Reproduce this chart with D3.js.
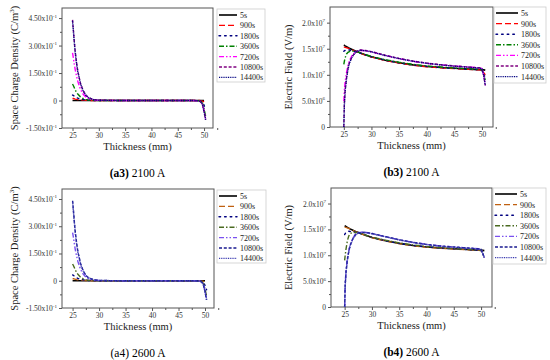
<!DOCTYPE html>
<html><head><meta charset="utf-8">
<script src="https://cdn.jsdelivr.net/npm/d3@7"></script>
<style>body{margin:0;background:#fff}svg{display:block}svg text{font-family:"Liberation Serif","Times New Roman",Times,serif}</style>
</head><body><svg id="c" width="550" height="360"></svg>
<script>
// ---- data ----
const seriesNames = ["5s","900s","1800s","3600s","7200s","10800s","14400s"];
const xTicks = [25,30,35,40,45,50];
const qTickValues = [-1.5,0,1.5,3.0,4.5];
const qTickLabels = [["-1.50x10","-1"],["0",""],["1.50x10","-1"],["3.00x10","-1"],["4.50x10","-1"]];
const eTickValues = [0,0.5,1.0,1.5,2.0];
const eTickLabels = [["0",""],["5.0x10","6"],["1.0x10","7"],["1.5x10","7"],["2.0x10","7"]];

const thicknessQ = [25,25.15,25.3,25.5,25.75,26,26.5,27,27.5,28,29,30,35,40,45,48,49,49.4,49.7,50,50.3];
const qA3_5s    = [0,0,0,0,0,0,0,0,0,0,0,0,0,0,0,0,0,0,0,0,null];
const qA3_900s  = [0.12,0.11,0.1,0.08,0.06,0.05,0.03,0.02,0.01,0.005,0,0,0,0,0,0,0,-0.01,-0.03,-0.08,-0.15];
const qA3_1800s = [0.3,0.28,0.25,0.2,0.16,0.13,0.08,0.05,0.03,0.015,0.005,0,0,0,0,0,-0.01,-0.03,-0.08,-0.25,-0.5];
const qA3_3600s = [0.9,0.82,0.72,0.58,0.45,0.35,0.2,0.11,0.06,0.03,0.01,0,0,0,0,0,-0.01,-0.05,-0.15,-0.45,-0.85];
const qA3_7200s = [2.6,2.35,2.05,1.7,1.35,1.05,0.62,0.35,0.2,0.11,0.03,0.01,0,0,0,0,-0.02,-0.08,-0.2,-0.55,-1.0];
const qA3_10800s= [4.4,3.9,3.35,2.7,2.1,1.6,0.95,0.55,0.3,0.17,0.05,0.015,0,0,0,0,-0.02,-0.08,-0.22,-0.6,-1.05];
const qA3_14400s= [4.35,3.85,3.3,2.65,2.05,1.58,0.93,0.54,0.3,0.16,0.05,0.015,0,0,0,0,-0.02,-0.08,-0.22,-0.6,-1.05];

const qA4_5s    = [0,0,0,0,0,0,0,0,0,0,0,0,0,0,0,0,0,0,0,0,null];
const qA4_900s  = [0.12,0.11,0.1,0.08,0.06,0.05,0.03,0.02,0.01,0.005,0,0,0,0,0,0,0,-0.01,-0.03,-0.08,-0.15];
const qA4_1800s = [0.32,0.3,0.26,0.21,0.17,0.13,0.08,0.05,0.03,0.015,0.005,0,0,0,0,0,-0.01,-0.03,-0.08,-0.25,-0.5];
const qA4_3600s = [0.92,0.84,0.74,0.6,0.46,0.36,0.2,0.11,0.06,0.03,0.01,0,0,0,0,0,-0.01,-0.05,-0.15,-0.45,-0.85];
const qA4_7200s = [2.65,2.4,2.1,1.72,1.37,1.06,0.63,0.36,0.2,0.11,0.03,0.01,0,0,0,0,-0.02,-0.08,-0.2,-0.55,-1.0];
const qA4_10800s= [4.4,3.9,3.35,2.7,2.1,1.6,0.95,0.55,0.3,0.17,0.05,0.015,0,0,0,0,-0.02,-0.08,-0.22,-0.6,-1.05];
const qA4_14400s= [4.35,3.85,3.3,2.65,2.05,1.58,0.93,0.54,0.3,0.16,0.05,0.015,0,0,0,0,-0.02,-0.08,-0.22,-0.6,-1.05];

const thicknessE = [25,25.1,25.25,25.5,25.75,26,26.5,27,27.5,28,29,30,32.5,35,37.5,40,42.5,45,47.5,49.5,50,50.3,50.6];
const eB3_5s    = [1.57,1.565,1.555,1.54,1.525,1.51,1.485,1.46,1.44,1.42,1.38,1.345,1.28,1.23,1.19,1.16,1.14,1.125,1.11,1.1,1.1,1.095,1.09];
const eB3_900s  = [1.53,1.53,1.525,1.52,1.51,1.5,1.48,1.455,1.435,1.415,1.375,1.34,1.275,1.225,1.185,1.155,1.135,1.12,1.105,1.095,1.09,1.05,1.0];
const eB3_1800s = [1.45,1.46,1.47,1.48,1.48,1.475,1.465,1.45,1.435,1.415,1.38,1.345,1.28,1.23,1.19,1.165,1.14,1.125,1.11,1.1,1.09,1.02,0.95];
const eB3_3600s = [1.2,1.26,1.33,1.4,1.43,1.445,1.455,1.45,1.44,1.42,1.385,1.35,1.29,1.24,1.2,1.17,1.15,1.13,1.115,1.105,1.1,1.0,0.9];
const eB3_7200s = [0.5,0.7,0.88,1.05,1.18,1.27,1.37,1.43,1.46,1.47,1.46,1.44,1.37,1.31,1.26,1.22,1.19,1.17,1.15,1.135,1.12,1.0,0.8];
const eB3_10800s= [0,0.45,0.72,0.95,1.12,1.23,1.35,1.42,1.46,1.475,1.465,1.445,1.375,1.315,1.265,1.225,1.195,1.17,1.15,1.135,1.12,1.0,0.8];
const eB3_14400s= [0,0.42,0.7,0.93,1.1,1.22,1.34,1.415,1.455,1.47,1.46,1.44,1.37,1.31,1.26,1.22,1.19,1.165,1.145,1.13,1.115,1.0,0.8];

const eB4_5s    = [1.57,1.565,1.555,1.54,1.525,1.51,1.485,1.46,1.44,1.42,1.38,1.345,1.28,1.23,1.19,1.16,1.14,1.125,1.11,1.1,1.1,1.095,1.09];
const eB4_900s  = [1.55,1.545,1.54,1.53,1.52,1.505,1.48,1.455,1.435,1.415,1.375,1.34,1.275,1.225,1.185,1.155,1.135,1.12,1.105,1.095,1.09,1.08,1.06];
const eB4_1800s = [1.4,1.42,1.44,1.46,1.465,1.46,1.455,1.445,1.43,1.415,1.38,1.345,1.28,1.23,1.19,1.165,1.14,1.125,1.11,1.1,1.09,1.05,1.0];
const eB4_3600s = [0.9,1.0,1.12,1.28,1.37,1.42,1.44,1.44,1.435,1.42,1.385,1.35,1.29,1.24,1.2,1.17,1.15,1.13,1.115,1.105,1.1,1.03,0.95];
const eB4_7200s = [0,0.45,0.7,0.93,1.08,1.2,1.33,1.41,1.44,1.445,1.44,1.42,1.36,1.3,1.25,1.21,1.18,1.16,1.14,1.125,1.115,1.04,0.95];
const eB4_10800s= [0,0.42,0.68,0.92,1.07,1.19,1.32,1.4,1.435,1.445,1.44,1.42,1.36,1.3,1.25,1.21,1.18,1.16,1.14,1.125,1.115,1.04,0.95];
const eB4_14400s= [0,0.4,0.66,0.9,1.06,1.18,1.31,1.395,1.43,1.44,1.435,1.415,1.355,1.295,1.245,1.205,1.175,1.155,1.135,1.12,1.11,1.04,0.95];

// ---- styles ----
const dashes = [null,"6,3","1.6,4","5,2,1.5,2","5,2,1.5,2,1.5,2","3,1.8","1,0.8"];
const colorsTop = ["#000000","#ff0000","#000080","#008000","#ff00ff","#800080","#000080"];
const colorsBot = ["#000000","#c06010","#000080","#4a6a20","#7a50f0","#1a1a90","#3a3ab0"];

const svg = d3.select("#c");
svg.append("rect").attr("width",550).attr("height",360).attr("fill","#fff");

function panel(cfg){
  const g = svg.append("g");
  const x = d3.scaleLinear().domain(cfg.xDomain).range([cfg.left,cfg.right]);
  const y = d3.scaleLinear().domain(cfg.yDomain).range([cfg.bottom,cfg.top]);
  const axisColor = "#555";
  g.append("rect").attr("x",cfg.left).attr("y",cfg.top).attr("width",cfg.right-cfg.left).attr("height",cfg.bottom-cfg.top)
    .attr("fill","none").attr("stroke",axisColor).attr("stroke-width",1);
  const xa = g.append("g").attr("transform",`translate(0,${cfg.bottom})`)
    .call(d3.axisBottom(x).tickValues(xTicks).tickSize(3).tickPadding(2).tickFormat(d3.format("d")));
  xa.select(".domain").remove();
  xa.selectAll("line").attr("stroke",axisColor);
  xa.selectAll("text").attr("font-size",7.5).attr("fill","#333");
  const xm = g.append("g").attr("transform",`translate(0,${cfg.bottom})`)
    .call(d3.axisBottom(x).tickValues(xTicks.map(v=>v+2.5)).tickSize(2).tickFormat(""));
  xm.select(".domain").remove(); xm.selectAll("line").attr("stroke",axisColor);
  const ya = g.append("g").attr("transform",`translate(${cfg.left},0)`)
    .call(d3.axisLeft(y).tickValues(cfg.yTicks).tickSize(3).tickFormat(""));
  ya.select(".domain").remove(); ya.selectAll("line").attr("stroke",axisColor);
  const minor = cfg.yTicks.slice(0,-1).map((v,i)=>(v+cfg.yTicks[i+1])/2);
  const ym = g.append("g").attr("transform",`translate(${cfg.left},0)`)
    .call(d3.axisLeft(y).tickValues(minor).tickSize(2).tickFormat(""));
  ym.select(".domain").remove(); ym.selectAll("line").attr("stroke",axisColor);
  cfg.yTicks.forEach((v,i)=>{
    const t = g.append("text").attr("x",cfg.left-5).attr("y",y(v)+3).attr("text-anchor","end")
      .attr("font-size",7.5).attr("fill","#333");
    t.append("tspan").text(cfg.yLabels[i][0]);
    if(cfg.yLabels[i][1]) t.append("tspan").attr("font-size",5).attr("dy",-3.5).text(cfg.yLabels[i][1]);
  });
  const yl = g.append("text").attr("transform",`translate(${cfg.yLabelX},${(cfg.top+cfg.bottom)/2}) rotate(-90)`)
    .attr("text-anchor","middle").attr("font-size",10.5).attr("fill","#222");
  yl.append("tspan").text(cfg.yTitle[0]);
  if(cfg.yTitle[1]){ yl.append("tspan").attr("font-size",7).attr("dy",-4).text(cfg.yTitle[1]); yl.append("tspan").attr("dy",4).text(cfg.yTitle[2]); }
  g.append("text").attr("x",(cfg.left+cfg.right)/2).attr("y",cfg.bottom+22).attr("text-anchor","middle")
    .attr("font-size",10.5).attr("fill","#222").text("Thickness (mm)");
  const cap = g.append("text").attr("x",(cfg.left+cfg.right)/2).attr("y",cfg.bottom+49).attr("text-anchor","middle")
    .attr("font-size",11.5).attr("fill","#000");
  cap.append("tspan").attr("font-weight","bold").text(cfg.capBold);
  cap.append("tspan").text(cfg.capRest);
  const clipId = "clip"+cfg.id;
  g.append("clipPath").attr("id",clipId).append("rect").attr("x",cfg.left).attr("y",cfg.top)
    .attr("width",cfg.right-cfg.left).attr("height",cfg.bottom-cfg.top);
  const line = d3.line().defined(d=>d[1]!=null).x(d=>x(d[0])).y(d=>y(d[1]));
  const lg = g.append("g").attr("clip-path",`url(#${clipId})`);
  cfg.series.forEach((vals,i)=>{
    const pts = cfg.xs.map((xv,j)=>[xv,vals[j]]);
    lg.append("path").attr("d",line(pts)).attr("fill","none").attr("stroke",cfg.colors[i])
      .attr("stroke-width",i===0?1.6:1.4).attr("stroke-dasharray",dashes[i]).attr("stroke-linecap",i===2?"round":"butt");
  });
  const L = cfg.legend;
  g.append("rect").attr("x",L.x).attr("y",L.y).attr("width",L.w).attr("height",L.h)
    .attr("fill","#fff").attr("stroke","#ccc").attr("stroke-width",0.8);
  seriesNames.forEach((n,i)=>{
    const yy = L.y+6+i*L.step;
    g.append("line").attr("x1",L.x+2).attr("x2",L.x+L.lineW).attr("y1",yy).attr("y2",yy)
      .attr("stroke",cfg.colors[i]).attr("stroke-width",i===0?1.6:1.4).attr("stroke-dasharray",dashes[i])
      .attr("stroke-linecap",i===2?"round":"butt");
    g.append("text").attr("x",L.x+L.lineW+3).attr("y",yy+3).attr("font-size",8).attr("fill","#222").text(n);
  });
}

panel({id:"a3",left:62,right:213,top:8,bottom:128,xDomain:[23,51.7],yDomain:[-1.5,5.05],
  yTicks:qTickValues,yLabels:qTickLabels,yLabelX:18,yTitle:["Space Charge Density (C/m","3",")"],
  capBold:"(a3)",capRest:" 2100 A",xs:thicknessQ,colors:colorsTop,
  series:[qA3_5s,qA3_900s,qA3_1800s,qA3_3600s,qA3_7200s,qA3_10800s,qA3_14400s],
  legend:{x:217,y:9,w:48,h:73,step:10.4,lineW:20}});
panel({id:"b3",left:330,right:493,top:7,bottom:127,xDomain:[22.5,52],yDomain:[0,2.3],
  yTicks:eTickValues,yLabels:eTickLabels,yLabelX:292,yTitle:["Electric Field (V/m)"],
  capBold:"(b3)",capRest:" 2100 A",xs:thicknessE,colors:colorsTop,
  series:[eB3_5s,eB3_900s,eB3_1800s,eB3_3600s,eB3_7200s,eB3_10800s,eB3_14400s],
  legend:{x:494,y:7,w:52,h:76,step:10.6,lineW:24}});
panel({id:"a4",left:62,right:214,top:189,bottom:308,xDomain:[23,51.7],yDomain:[-1.5,5.05],
  yTicks:qTickValues,yLabels:qTickLabels,yLabelX:18,yTitle:["Space Charge Density (C/m","3",")"],
  capBold:"",capRest:"(a4) 2600 A",xs:thicknessQ,colors:colorsBot,
  series:[qA4_5s,qA4_900s,qA4_1800s,qA4_3600s,qA4_7200s,qA4_10800s,qA4_14400s],
  legend:{x:217,y:190,w:49,h:73,step:10.4,lineW:20}});
panel({id:"b4",left:331,right:492,top:188,bottom:307,xDomain:[22.5,52],yDomain:[0,2.3],
  yTicks:eTickValues,yLabels:eTickLabels,yLabelX:292,yTitle:["Electric Field (V/m)"],
  capBold:"(b4)",capRest:" 2600 A",xs:thicknessE,colors:colorsBot,
  series:[eB4_5s,eB4_900s,eB4_1800s,eB4_3600s,eB4_7200s,eB4_10800s,eB4_14400s],
  legend:{x:493,y:188,w:53,h:76,step:10.6,lineW:24}});
</script></body></html>
